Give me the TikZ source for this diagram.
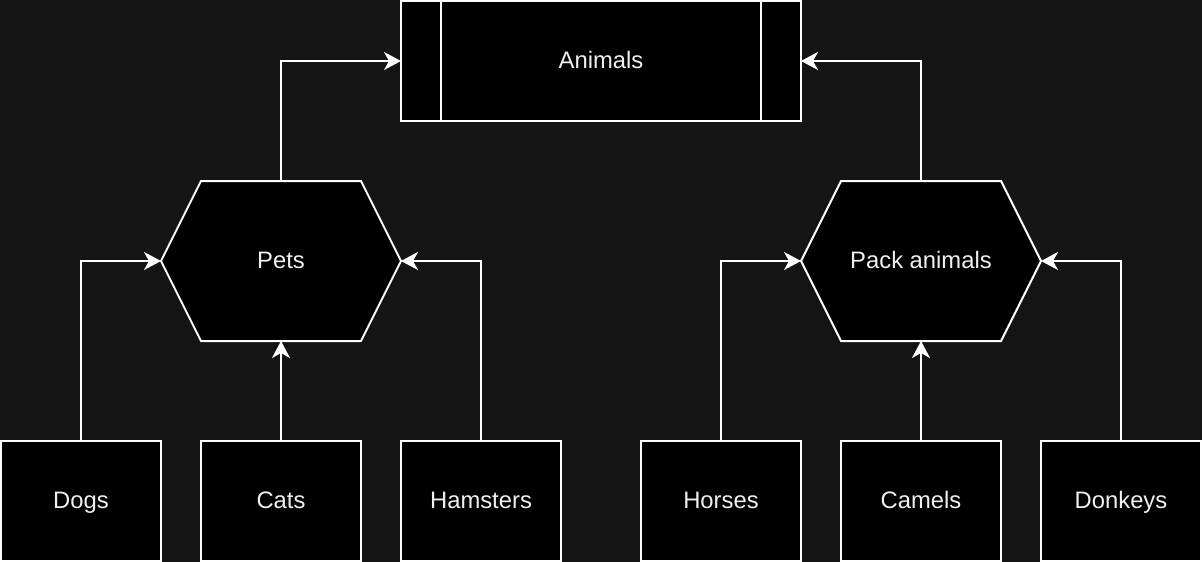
\documentclass[tikz,border=0pt]{standalone}
\usepackage{fontspec}
\setmainfont{Liberation Sans}
\usetikzlibrary{arrows.meta}
\definecolor{canvas}{HTML}{141414}
\definecolor{ink}{HTML}{F0F0F0}
\tikzset{
    label/.style={text=ink,inner sep=0pt,outer sep=0pt,
        font=\fontsize{23.8}{28}\selectfont,text height=17pt,text depth=3pt},
    frame/.style={draw=white,line width=2pt},
    box/.style={frame,label,fill=black,minimum width=160,minimum height=120},
    link/.style={white,line width=2pt,-{Stealth[length=17pt,width=18pt,inset=5pt]}},
}
\newcommand\LeafBox[3]{%
    \node[box] (#1) at (#2,501) {#3};
}
\newcommand\HexNode[4]{%
    \draw[frame,fill=black] (#2-120,#3) -- ++(40,-80) -- ++(160,0) -- ++(40,80)
        -- ++(-40,80) -- ++(-160,0) -- cycle;
    \node[label,minimum width=240,minimum height=160] (#1) at (#2,#3) {#4};
}

\begin{document}
\begin{tikzpicture}[x=1pt,y=-1pt]
    \fill[canvas] (0,0) rectangle (1202,562);
    \useasboundingbox (0,0) rectangle (1202,562);

    \node[box,minimum width=400] (animals) at (601,61) {Animals};
    \draw[frame] ([xshift=40]animals.north west) -- ([xshift=40]animals.south west);
    \draw[frame] ([xshift=-40]animals.north east) -- ([xshift=-40]animals.south east);

    \HexNode{pets}{281}{261}{Pets}
    \HexNode{pack}{921}{261}{Pack animals}

    \LeafBox{dogs}{81}{Dogs}
    \LeafBox{cats}{281}{Cats}
    \LeafBox{hamsters}{481}{Hamsters}
    \LeafBox{horses}{721}{Horses}
    \LeafBox{camels}{921}{Camels}
    \LeafBox{donkeys}{1121}{Donkeys}

    \draw[link] (pets.north) |- (animals.west);
    \draw[link] (pack.north) |- (animals.east);
    \draw[link] (dogs.north) |- (pets.west);
    \draw[link] (cats.north) -- (pets.south);
    \draw[link] (hamsters.north) |- (pets.east);
    \draw[link] (horses.north) |- (pack.west);
    \draw[link] (camels.north) -- (pack.south);
    \draw[link] (donkeys.north) |- (pack.east);
\end{tikzpicture}
\end{document}
